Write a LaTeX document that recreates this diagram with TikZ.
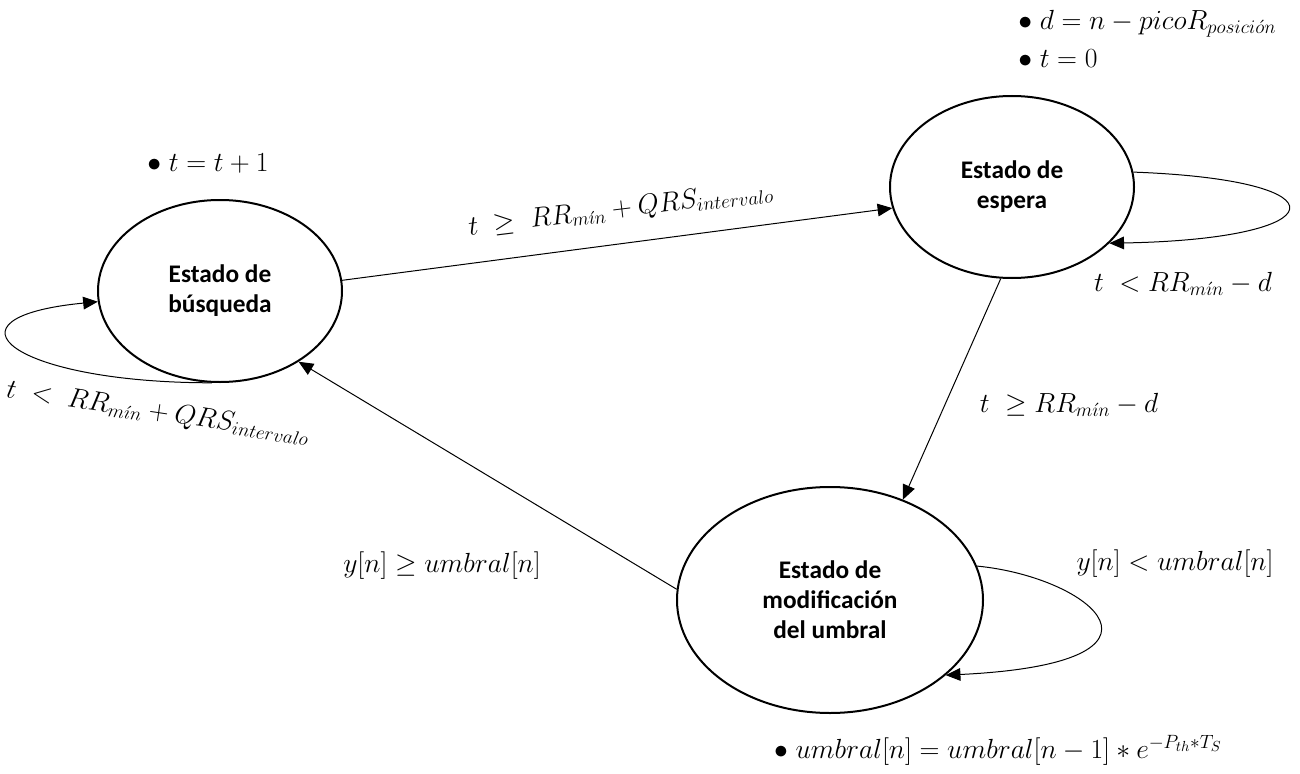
\documentclass[tikz,border=0pt]{standalone}
\usepackage{fontspec}
\usetikzlibrary{arrows.meta,shapes.geometric}
\newfontfamily\calibri{Carlito}
\DeclareMathSizes{19.5}{19.5}{14.5}{11}
\begin{document}
\begin{tikzpicture}[x=0.75pt,y=-0.75pt,
  state/.style={draw, ellipse, line width=1.5pt, inner sep=0pt, align=center,
    font=\calibri\bfseries\fontsize{19}{22.5}\selectfont},
  arr/.style={line width=0.75pt, -{Triangle[length=11pt,width=9.5pt]}},
  lbl/.style={font=\fontsize{19.5}{22}\selectfont, inner sep=0pt}]
\useasboundingbox (0,0) rectangle (1300,774);
\node[state, minimum width=183pt, minimum height=136.5pt] (bus) at (220,291) {Estado de\\búsqueda};
\node[state, minimum width=183pt, minimum height=136.5pt] (esp) at (1012,187) {Estado de\\espera};
\node[state, minimum width=229.5pt, minimum height=169.5pt] (mod) at (830,600) {Estado de\\modificación\\del umbral};
\draw[arr] (bus.5.6) -- (esp.190.7);
\draw[arr] (esp.263.7) -- (mod.54.7);
\draw[arr] (mod.176) -- (bus.-42.7);
\draw[arr] (bus.265.6) .. controls +(-200,0) and +(-165,16) .. (bus.185.6);
\draw[arr] (esp.7) .. controls +(217,8) and +(227,-4) .. (esp.-30.6);
\draw[arr] (mod.13.9) .. controls +(114,11) and +(250,-12) .. (mod.-33.7);
\node[lbl] (l1) at (208,163) {$\bullet\; t=t+1$};
\node[lbl, anchor=west] (l2) at (1018,24) {$\bullet\; d=n-picoR_{posici\acute{o}n}$};
\node[lbl, anchor=west] (l3) at (1018,59) {$\bullet\; t=0$};
\node[lbl, rotate=7] (l4) at (621,210) {$t\ \geq\ RR_{m\acute{\imath}n}+QRS_{intervalo}$};
\node[lbl] (l5) at (1183,284) {$t\ <RR_{m\acute{\imath}n}-d$};
\node[lbl] (l6) at (1069,405) {$t\ \geq RR_{m\acute{\imath}n}-d$};
\node[lbl, rotate=-8.5] (l7) at (158,413) {$t\ <\ RR_{m\acute{\imath}n}+QRS_{intervalo}$};
\node[lbl] (l8) at (442,566) {$y[n]\geq umbral[n]$};
\node[lbl] (l9) at (1175,564) {$y[n]<umbral[n]$};
\node[lbl] (l10) at (998,750) {$\bullet\; umbral[n]=umbral[n-1]*e^{-P_{th}{*}T_{S}}$};
\end{tikzpicture}
\end{document}
